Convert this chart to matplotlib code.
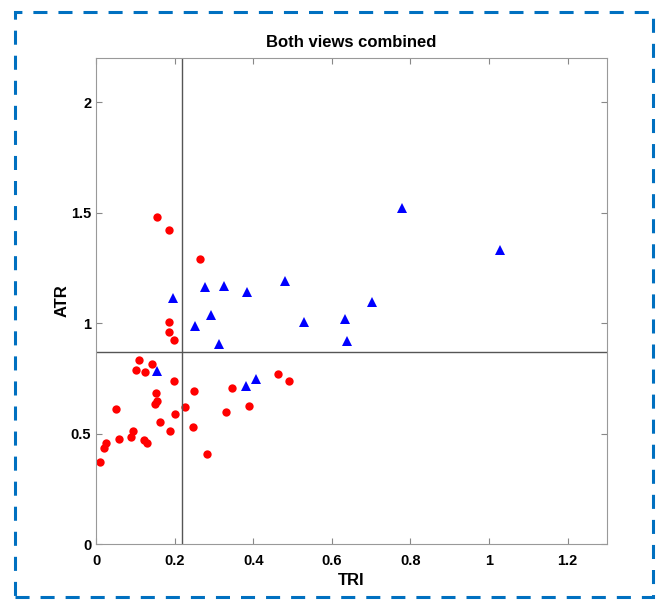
import numpy as np
import matplotlib
matplotlib.use('Agg')
from matplotlib import pyplot as plt
from matplotlib.patches import Rectangle

plt.rcParams['font.family'] = ['Liberation Sans', 'DejaVu Sans']

# red circles (TRI, ATR)
red_tri = [0.154, 0.185, 0.265, 0.186, 0.186, 0.199, 0.110, 0.142, 0.103, 0.125,
           0.199, 0.464, 0.491, 0.345, 0.250, 0.152, 0.154, 0.149, 0.052, 0.226,
           0.388, 0.331, 0.201, 0.162, 0.187, 0.246, 0.095, 0.088, 0.059, 0.121,
           0.129, 0.025, 0.020, 0.282, 0.010]
red_atr = [1.481, 1.422, 1.288, 1.004, 0.960, 0.925, 0.834, 0.814, 0.786, 0.777,
           0.740, 0.771, 0.740, 0.706, 0.694, 0.682, 0.647, 0.632, 0.611, 0.619,
           0.623, 0.599, 0.588, 0.554, 0.512, 0.530, 0.512, 0.486, 0.476, 0.473,
           0.456, 0.457, 0.435, 0.409, 0.373]

# blue triangles (TRI, ATR)
blue_tri = [0.197, 0.277, 0.326, 0.383, 0.481, 0.293, 0.253, 0.530, 0.313, 0.154,
            0.779, 1.029, 0.703, 0.633, 0.639, 0.381, 0.408]
blue_atr = [1.112, 1.165, 1.166, 1.139, 1.192, 1.038, 0.985, 1.007, 0.907, 0.782,
            1.521, 1.333, 1.097, 1.020, 0.921, 0.715, 0.749]

# threshold lines
tri_cut = 0.219
atr_cut = 0.871

xticks = [0, 0.2, 0.4, 0.6, 0.8, 1, 1.2]
xlabels = ['0', '0.2', '0.4', '0.6', '0.8', '1', '1.2']
yticks = [0, 0.5, 1, 1.5, 2]
ylabels = ['0', '0.5', '1', '1.5', '2']

fig = plt.figure(figsize=(6.62, 6.0), dpi=100)

# dashed frame round the whole picture
frame = Rectangle((15 / 662, 3 / 600), 638 / 662, 585 / 600, transform=fig.transFigure,
                  fill=False, edgecolor='#0070C0', linewidth=2.2, linestyle=(0, (4.6, 3.6)))
fig.patches.append(frame)

ax = fig.add_axes([96 / 662, 56 / 600, 511 / 662, 486 / 600])
ax.plot(red_tri, red_atr, 'o', color='red', markersize=6, markeredgewidth=0)
ax.plot(blue_tri, blue_atr, '^', color='blue', markersize=6.5, markeredgewidth=0)
ax.axvline(tri_cut, color='#555555', linewidth=1)
ax.axhline(atr_cut, color='#555555', linewidth=1)

ax.set_xlim(0, 1.3)
ax.set_ylim(0, 2.2)
ax.set_xticks(xticks)
ax.set_xticklabels(xlabels)
ax.set_yticks(yticks)
ax.set_yticklabels(ylabels)
ax.tick_params(direction='in', top=True, right=True, length=4, color='#888888',
               labelsize=10.5)
ax.tick_params(axis='x', pad=7)
for lab in ax.get_xticklabels() + ax.get_yticklabels():
    lab.set_fontweight('bold')
for sp in ax.spines.values():
    sp.set_color('#999999')

ax.set_xlabel('TRI', fontsize=12, fontweight='bold')
ax.set_ylabel('ATR', fontsize=12, fontweight='bold', labelpad=1)
ax.set_title('Both views combined', fontsize=12, fontweight='bold', pad=8)

fig.savefig('out.png', dpi=100)
